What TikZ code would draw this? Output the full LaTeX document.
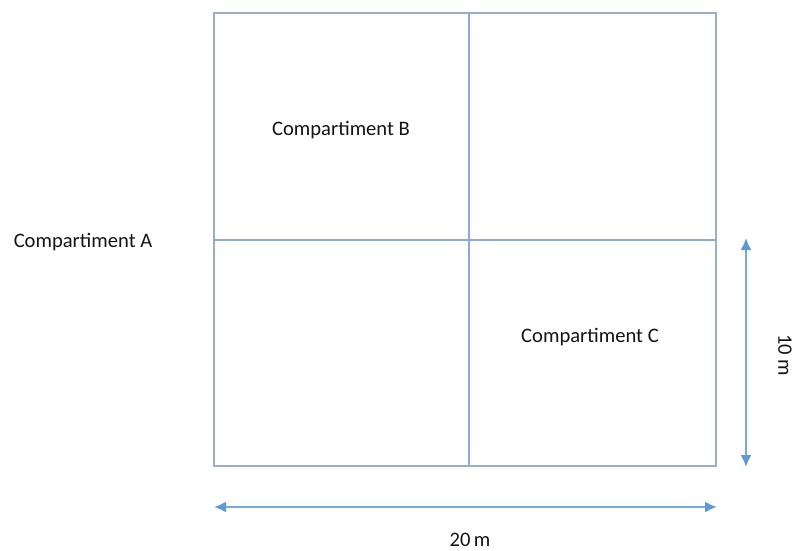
\documentclass[tikz,border=0pt]{standalone}
\usepackage{fontspec}
\setmainfont{Carlito}
\usetikzlibrary{arrows.meta, positioning}
\definecolor{wallgray}{HTML}{9AAFC6}
\definecolor{wallblue}{HTML}{8EAAD6}
\definecolor{arrowblue}{HTML}{5B9BD5}
\tikzset{
  label/.style={font=\fontsize{20.6}{24}\selectfont, text=black!92, inner sep=0pt},
  dim/.style={draw=arrowblue!85, line width=1.9pt, {Latex[length=12pt,width=11pt,color=arrowblue]}-{Latex[length=12pt,width=11pt,color=arrowblue]}}
}

\begin{document}
\begin{tikzpicture}[x=1pt, y=-1pt]
				  \useasboundingbox (0,0) rectangle (798,551);
				  \coordinate (nw) at (214,13);
				  \coordinate (se) at (716,466);
				  % walls
				  \draw[color=wallblue, line width=1.5pt] (469,13) -- (469,466);
				  \draw[color=wallblue, line width=1.5pt] (214,240) -- (716,240);
				  \draw[color=wallgray, line width=1.8pt] (nw) rectangle (se);
				  % dimensions
				  \coordinate (wl) at (214,507);
				  \coordinate (wr) at (717,507);
				  \coordinate (ht) at (746,238);
				  \coordinate (hb) at (746,467);
				  \draw[dim] (wl) -- (wr);
				  \draw[dim] (ht) -- (hb);
				  \node[label] (lenW) at (470,540) {20\,m};
				  \node[label, rotate=-90] (lenH) at (785,355) {10 m};
				  % rooms
				  \node[label] (roomA) at (83,242) {Compartiment A};
				  \node[label] (roomB) at (341,130) {Compartiment B};
				  \node[label] (roomC) at (590,337) {Compartiment C};
				\end{tikzpicture}
\end{document}
